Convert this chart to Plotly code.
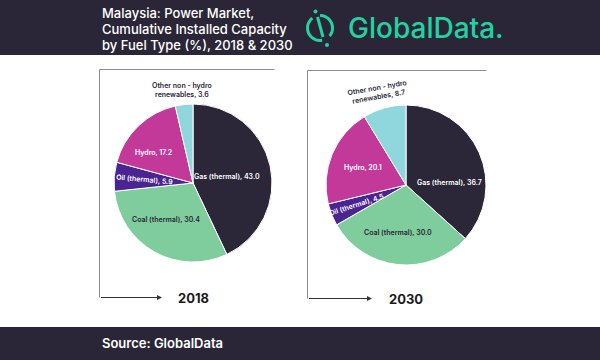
import math
import plotly.graph_objects as go

# ---------------- data ----------------
categories = ["Gas (thermal)", "Coal (thermal)", "Oil (thermal)", "Hydro",
              "Other non - hydro renewables"]
values_2018 = [43.0, 30.4, 5.9, 17.2, 3.6]
values_2030 = [36.7, 30.0, 4.5, 20.1, 8.7]
years = ["2018", "2030"]
title_lines = ["Malaysia: Power Market,", "Cumulative Installed Capacity",
               "by Fuel Type (%), 2018 & 2030"]
source_text = "Source: GlobalData"
brand_text = "GlobalData."

# ---------------- style ----------------
DARK = "#2a2637"
GREEN = "#22d3a1"
slice_colors = ["#2c2639", "#7fcc9c", "#4a2490", "#c2399a", "#8fd6dd"]
label_colors = ["white", DARK, "white", "white", DARK]
FONT = "Inter"
W, H = 600, 360

def px(x):
    return x / W

def py(y):
    return 1 - y / H

# pie geometry (pixels): center x, center y, radius
pies = [
    dict(cx=193, cy=183, r=79, frame=(99.5, 69.5, 274.5, 297.5, 162),
         lab_r=[0.44, 0.58, 0.61, 0.63, 1.18], lab_nudge=[2.6, 7, -1, -8, 0],
         lab_angle=[0, 0, 5, 0, 0]),
    dict(cx=406, cy=185, r=80, frame=(307.5, 70.5, 486.5, 298.5, 372),
         lab_r=[0.54, 0.6, 0.66, 0.58, 1.21], lab_nudge=[20, 3.6, 0, -1, -1],
         lab_angle=[0, 0, -18, 0, -10]),
]

fig = go.Figure()
shapes = []
annotations = []

def rect(x0, y0, x1, y1, color):
    return dict(type="rect", xref="paper", yref="paper", x0=px(x0), x1=px(x1),
                y0=py(y1), y1=py(y0), fillcolor=color, line=dict(width=0),
                layer="above")

def line(x0, y0, x1, y1, color, width=1):
    return dict(type="line", xref="paper", yref="paper", x0=px(x0), y0=py(y0),
                x1=px(x1), y1=py(y1), line=dict(color=color, width=width))

def text(x, y, t, size, color, weight=500, anchor="left", angle=0):
    return dict(x=px(x), y=py(y), xref="paper", yref="paper", text=t,
                showarrow=False, xanchor=anchor, yanchor="middle", textangle=angle,
                font=dict(family=FONT, size=size, color=color, weight=weight))

# header / footer bands
shapes.append(rect(0, 0, W, 55, DARK))
shapes.append(rect(0, 327, W, H, DARK))

for li, ln in enumerate(title_lines):
    annotations.append(text(100, 13 + li * 16, ln, 13, "white", 500))
annotations.append(text(100, 343, source_text, 13, "white", 600))

# logo text
annotations.append(text(346, 28, brand_text, 28, GREEN, 500))
# logo icon: broken ring + bar + dots
lcx, lcy, lr = 320, 28, 12.5

def arc(a0, a1, n=24):
    pts = []
    for k in range(n + 1):
        a = math.radians(a0 + (a1 - a0) * k / n)
        pts.append((px(lcx + lr * math.sin(a)), py(lcy - lr * math.cos(a))))
    return "M" + " L".join(f"{x:.5f},{y:.5f}" for x, y in pts)

for a0, a1 in [(0, 130), (170, 322)]:
    shapes.append(dict(type="path", xref="paper", yref="paper", path=arc(a0, a1),
                       line=dict(color=GREEN, width=3)))
shapes.append(line(317.5, 17, 323, 37, GREEN, 3))
for dx, dy in [(315.5, 11.5), (327, 45)]:
    shapes.append(dict(type="circle", xref="paper", yref="paper",
                       x0=px(dx - 2), x1=px(dx + 2), y0=py(dy + 2), y1=py(dy - 2),
                       fillcolor=GREEN, line=dict(width=0)))

for vals, year, p in zip([values_2018, values_2030], years, pies):
    cx, cy, r = p["cx"], p["cy"], p["r"]
    fig.add_trace(go.Pie(
        labels=categories, values=vals, sort=False, direction="clockwise",
        rotation=0, textinfo="none", showlegend=False, hole=0,
        marker=dict(colors=slice_colors, line=dict(color="white", width=1)),
        domain=dict(x=[px(cx - r), px(cx + r)], y=[py(cy + r), py(cy - r)]),
        hovertemplate="%{label}: %{value:.1f}<extra>" + year + "</extra>",
    ))
    total = sum(vals)
    cum = 0.0
    for i, (cat, v) in enumerate(zip(categories, vals)):
        mid = (cum + v / 2) / total * 360 + p["lab_nudge"][i]
        cum += v
        rr = p["lab_r"][i] * r
        lx = cx + rr * math.sin(math.radians(mid))
        ly = cy - rr * math.cos(math.radians(mid))
        txt = f"{cat}, {v:.1f}".replace(" renewables", "<br>renewables")
        annotations.append(text(lx, ly, txt, 7, label_colors[i], 600, "center",
                                p["lab_angle"][i]))
    # frame
    x0, y0, x1, y1, ax_end = p["frame"]
    shapes.append(line(x0, y0, x1, y0, "#8c8c8c"))
    shapes.append(line(x0, y0, x0, y1, "#8c8c8c"))
    annotations.append(dict(x=px(ax_end), y=py(y1), ax=-(ax_end - x0), ay=0,
                            xref="paper", yref="paper", axref="pixel", ayref="pixel",
                            text="", showarrow=True, arrowhead=2, arrowsize=1,
                            arrowwidth=1, arrowcolor="#333333", standoff=0))
    annotations.append(text(cx, y1, year, 13, "#1a1a1a", 700, "center"))

fig.update_layout(
    width=W, height=H, margin=dict(l=0, r=0, t=0, b=0),
    paper_bgcolor="white", plot_bgcolor="rgba(0,0,0,0)",
    shapes=shapes, annotations=annotations,
)
fig.write_html("out.html", config={"displayModeBar": False},
               post_script="document.body.style.margin='0';document.body.style.overflow='hidden';")
